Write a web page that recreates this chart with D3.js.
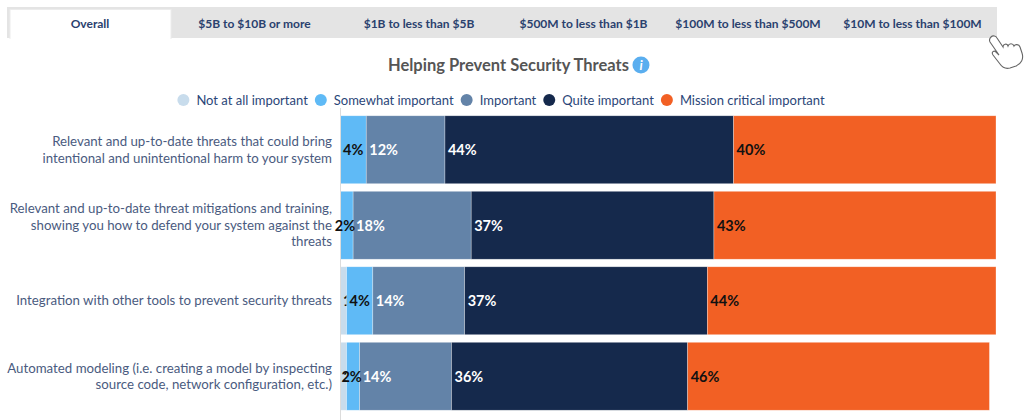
<!DOCTYPE html>
<html>
<head>
<meta charset="utf-8">
<script src="https://cdn.jsdelivr.net/npm/d3@7"></script>
<style>
  body { margin: 0; background: #fff; font-family: Lato, "Open Sans", sans-serif; }
</style>
</head>
<body>
<script>
// Datos del gráfico
var pestanas = ["Overall", "$5B to $10B or more", "$1B to less than $5B", "$500M to less than $1B", "$100M to less than $500M", "$10M to less than $100M"];
var titulo = "Helping Prevent Security Threats";
var categorias = [
    "Relevant and up-to-date threats that could bring intentional and unintentional harm to your system",
    "Relevant and up-to-date threat mitigations and training, showing you how to defend your system against the threats",
    "Integration with other tools to prevent security threats",
    "Automated modeling (i.e. creating a model by inspecting source code, network configuration, etc.)"
];
var series = ["Not at all important", "Somewhat important", "Important", "Quite important", "Mission critical important"];
var notAtAll = [0, 0, 1, 1];
var somewhat = [4, 2, 4, 2];
var important = [12, 18, 14, 14];
var quite = [44, 37, 37, 36];
var mission = [40, 43, 44, 46];

var colores = ["#c8dcec", "#5fbaf6", "#6383a8", "#15294c", "#f26024"];
var colorTexto = ["#111", "#111", "#fff", "#fff", "#111"];

// tabla para el stack
var valores = [notAtAll, somewhat, important, quite, mission];
var tabla = categorias.map(function (c, i) {
    var fila = { categoria: c };
    series.forEach(function (s, j) { fila[s] = valores[j][i]; });
    return fila;
});

var width = 1024;
var height = 420;

var margen = { arriba: 112, abajo: 2, izquierda: 340, derecha: 28 };

var svg = d3.select("body")
    .append("svg")
    .attr("width", width)
    .attr("height", height)
    .style("font-family", "Lato, 'Open Sans', sans-serif");

// Pestañas de arriba
var anchoPestana = 164.5;
svg.append("rect")
    .attr("x", 7).attr("y", 7)
    .attr("width", 990).attr("height", 31)
    .attr("fill", "#e4e4e4");

svg.append("rect")
    .attr("x", 10).attr("y", 9.5)
    .attr("width", 161).attr("height", 29)
    .attr("fill", "#fff")
    .attr("stroke", "#ececec");

svg.append("rect")
    .attr("x", 10.5).attr("y", 38)
    .attr("width", 160).attr("height", 3)
    .attr("fill", "#fff");

svg.selectAll(".pestana")
    .data(pestanas)
    .join("text")
    .attr("class", "pestana")
    .attr("x", function (d, i) { return 90 + i * anchoPestana; })
    .attr("y", 27.5)
    .attr("text-anchor", "middle")
    .style("font-size", "12px")
    .style("font-weight", "bold")
    .attr("fill", "#2a416e")
    .text(function (d) { return d; });

// Cursor de mano (decoración)
svg.append("path")
    .attr("d", "M991,37 c2,-2 5,-1 6,1 l6,9 c0,-3 4,-4 5,-1 c1,-3 5,-3 6,0 c1,-2 5,-2 6,1 l2,6 c2,6 -1,11 -6,13 l-6,2 c-4,1 -8,-1 -10,-4 l-7,-9 c-2,-3 1,-5 3,-3 l3,3 l-9,-13 c-1,-2 0,-4 1,-5 z")
    .attr("fill", "#fff")
    .attr("stroke", "#666")
    .attr("stroke-width", 1.1);

// Título
var gTitulo = svg.append("g");
var textoTitulo = gTitulo.append("text")
    .attr("x", 0)
    .attr("y", 71)
    .attr("text-anchor", "start")
    .style("font-size", "16.5px")
    .style("font-weight", "bold")
    .attr("fill", "#555")
    .text(titulo);
var anchoTitulo = textoTitulo.node().getComputedTextLength();
gTitulo.append("circle")
    .attr("cx", anchoTitulo + 12)
    .attr("cy", 65)
    .attr("r", 8.5)
    .attr("fill", "#5aaeef");
gTitulo.append("text")
    .attr("x", anchoTitulo + 12)
    .attr("y", 70)
    .attr("text-anchor", "middle")
    .style("font-size", "13px")
    .style("font-weight", "bold")
    .style("font-style", "italic")
    .attr("fill", "#fff")
    .text("i");
gTitulo.attr("transform", "translate(388,0)");

// Leyenda
var gLeyenda = svg.append("g");
var posX = 0;
series.forEach(function (s, i) {
    var item = gLeyenda.append("g").attr("transform", "translate(" + posX + ",0)");
    item.append("circle")
        .attr("cx", 6).attr("cy", 100).attr("r", 6)
        .attr("fill", colores[i]);
    var t = item.append("text")
        .attr("x", 19).attr("y", 104.5)
        .style("font-size", "13px")
        .attr("fill", "#2b4678")
        .text(s);
    posX += 19 + t.node().getComputedTextLength() + 7;
});
gLeyenda.attr("transform", "translate(" + (501 - (posX - 7) / 2) + ",0)");

// Escalas
var escalaX = d3.scaleLinear()
    .domain([0, 100])
    .range([margen.izquierda, width - margen.derecha]);

var escalaY = d3.scaleBand()
    .domain(categorias)
    .range([margen.arriba, height - margen.abajo - 4])
    .paddingInner(0.1)
    .paddingOuter(0.05);

var apilado = d3.stack().keys(series)(tabla);

// Barras apiladas
var grupos = svg.selectAll(".serie")
    .data(apilado)
    .join("g")
    .attr("class", "serie")
    .attr("fill", function (d, i) { return colores[i]; });

grupos.selectAll("rect")
    .data(function (d) { return d; })
    .join("rect")
    .attr("x", function (d) { return escalaX(d[0]); })
    .attr("y", function (d) { return escalaY(d.data.categoria); })
    .attr("width", function (d) { return escalaX(d[1]) - escalaX(d[0]); })
    .attr("height", escalaY.bandwidth())
    .attr("stroke", "#fff")
    .attr("stroke-opacity", 0.5)
    .attr("stroke-width", 0.6);

// Eje Y con las categorías
var ejeY = d3.axisLeft(escalaY).tickSize(0).tickPadding(8);
var gEjeY = svg.append("g")
    .attr("transform", "translate(" + margen.izquierda + ",0)")
    .call(ejeY);
gEjeY.select(".domain")
    .attr("stroke", "#dcdcdc")
    .attr("d", "M0.5," + (margen.arriba - 4) + "V" + height);
gEjeY.selectAll("text")
    .style("font-size", "13.25px")
    .style("font-family", "Lato, 'Open Sans', sans-serif")
    .attr("fill", "#4a5b80")
    .call(partirTexto, 328);

// Etiquetas de porcentaje (sin los ceros)
function pintarEtiquetas(contenedor, serie, i) {
    return contenedor.selectAll("text")
        .data(serie.filter(function (d) { return d[1] - d[0] > 0; }))
        .join("text")
        .attr("x", function (d) { return escalaX(d[0]) + 3; })
        .attr("y", function (d) { return escalaY(d.data.categoria) + escalaY.bandwidth() / 2 + 5.5; })
        .style("font-size", "14.5px")
        .style("font-weight", "bold")
        .attr("fill", colorTexto[i])
        .text(function (d) { return (d[1] - d[0]) + "%"; });
}

// las de "Not at all" quedan debajo de la barra siguiente, el resto encima
grupos.filter(function (d, i) { return i === 0; })
    .each(function (serie) { pintarEtiquetas(d3.select(this), serie, 0); });

var capaEtiquetas = svg.append("g");
apilado.forEach(function (serie, i) {
    if (i === 0) return;
    var etiquetas = pintarEtiquetas(capaEtiquetas.append("g"), serie, i);
    // las de "Somewhat" se corren a la izquierda si no caben
    if (i === 1) {
        etiquetas.attr("x", function (d) {
            var ancho = this.getComputedTextLength();
            return Math.min(escalaX(d[0]) + 3, escalaX(d[1]) + 3 - ancho - 1);
        });
    }
});

// Función para partir el texto en líneas
function partirTexto(textos, ancho) {
    textos.each(function () {
        var texto = d3.select(this);
        var palabras = texto.text().split(/\s+/);
        var x = texto.attr("x");
        texto.text(null).attr("dy", null);
        var lineas = [];
        var linea = [];
        var tspan = texto.append("tspan");
        palabras.forEach(function (p) {
            linea.push(p);
            tspan.text(linea.join(" "));
            if (tspan.node().getComputedTextLength() > ancho && linea.length > 1) {
                linea.pop();
                lineas.push(linea.join(" "));
                linea = [p];
            }
        });
        lineas.push(linea.join(" "));
        texto.text(null);
        var altoLinea = 16.5;
        lineas.forEach(function (l, k) {
            texto.append("tspan")
                .attr("x", x)
                .attr("dy", k === 0 ? (-(lineas.length - 1) / 2 * altoLinea + 4.5) + "px" : altoLinea + "px")
                .text(l);
        });
    });
}
</script>
</body>
</html>
